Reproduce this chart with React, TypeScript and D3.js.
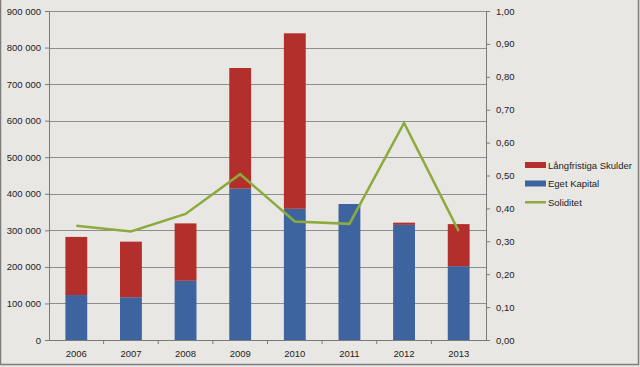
import React, { useRef, useEffect } from "react";
import * as d3 from "d3";

const years = ["2006", "2007", "2008", "2009", "2010", "2011", "2012", "2013"];
const egetKapital = [123000, 117000, 162000, 414000, 359000, 372000, 315000, 202000];
const langfristigaSkulder = [159000, 152000, 157000, 330000, 480000, 0, 6000, 115000];
const soliditet = [0.347, 0.33, 0.383, 0.504, 0.36, 0.353, 0.66, 0.331];
const leftTicks = [0, 100000, 200000, 300000, 400000, 500000, 600000, 700000, 800000, 900000];
const rightTicks = [0, 0.1, 0.2, 0.3, 0.4, 0.5, 0.6, 0.7, 0.8, 0.9, 1.0];

const legendItems = [
  { label: "Långfristiga Skulder", color: "#b22f2b", type: "bar" },
  { label: "Eget Kapital", color: "#3e64a0", type: "bar" },
  { label: "Soliditet", color: "#8cab3c", type: "line" },
];

const App = () => {
  const ref = useRef<SVGSVGElement>(null);

  useEffect(() => {
    const svg = d3.select(ref.current);
    svg.selectAll("*").remove();

    const width = 640;
    const height = 367;
    const margin = { top: 11, right: 154, bottom: 27, left: 49 };
    const font = "'Liberation Sans', Arial, sans-serif";

    svg.append("rect").attr("width", width).attr("height", height).attr("fill", "#e9e7e4");
    svg
      .append("rect")
      .attr("x", 0.5)
      .attr("y", -1)
      .attr("width", width - 2)
      .attr("height", height - 1.5)
      .attr("fill", "none")
      .attr("stroke", "#7d7d7d")
      .attr("stroke-width", 1.5);

    const x = d3
      .scaleBand()
      .domain(years)
      .range([margin.left, width - margin.right]);

    const y = d3
      .scaleLinear()
      .domain([0, 900000])
      .range([height - margin.bottom, margin.top]);

    const y2 = d3
      .scaleLinear()
      .domain([0, 1])
      .range([height - margin.bottom, margin.top]);

    // gridlines
    svg
      .append("g")
      .selectAll("line")
      .data(leftTicks.filter((d) => d > 0))
      .join("line")
      .attr("x1", margin.left)
      .attr("x2", width - margin.right)
      .attr("y1", (d) => Math.round(y(d)) + 0.5)
      .attr("y2", (d) => Math.round(y(d)) + 0.5)
      .attr("stroke", "#8e8e8e")
      .attr("stroke-width", 1);

    // bars
    const barW = x.bandwidth() * 0.4;
    const bars = svg.append("g");
    bars
      .selectAll("rect.eget")
      .data(years)
      .join("rect")
      .attr("class", "eget")
      .attr("x", (d) => x(d)! + (x.bandwidth() - barW) / 2)
      .attr("width", barW)
      .attr("y", (d, i) => y(egetKapital[i]))
      .attr("height", (d, i) => y(0) - y(egetKapital[i]))
      .attr("fill", "#3e64a0");
    bars
      .selectAll("rect.lang")
      .data(years)
      .join("rect")
      .attr("class", "lang")
      .attr("x", (d) => x(d)! + (x.bandwidth() - barW) / 2)
      .attr("width", barW)
      .attr("y", (d, i) => y(egetKapital[i] + langfristigaSkulder[i]))
      .attr("height", (d, i) => y(egetKapital[i]) - y(egetKapital[i] + langfristigaSkulder[i]))
      .attr("fill", "#b22f2b");

    // left axis
    const leftAxis = svg
      .append("g")
      .attr("transform", `translate(${margin.left},0)`)
      .call(
        d3
          .axisLeft(y)
          .tickValues(leftTicks)
          .tickSize(4)
          .tickPadding(4)
          .tickFormat((d) => d3.format(",")(d as number).replace(/,/g, " "))
      );
    leftAxis.selectAll("path, line").attr("stroke", "#7a7a7a");
    leftAxis.selectAll("text").attr("fill", "#222").style("font-family", font).style("font-size", "9.5px");

    // right axis
    const rightAxis = svg
      .append("g")
      .attr("transform", `translate(${width - margin.right},0)`)
      .call(
        d3
          .axisRight(y2)
          .tickValues(rightTicks)
          .tickSize(4)
          .tickPadding(6)
          .tickFormat((d) => d3.format(".2f")(d as number).replace(".", ","))
      );
    rightAxis.selectAll("path, line").attr("stroke", "#7a7a7a");
    rightAxis.selectAll("text").attr("fill", "#222").style("font-family", font).style("font-size", "9.5px");

    // bottom axis
    const bottomAxis = svg
      .append("g")
      .attr("transform", `translate(0,${height - margin.bottom})`)
      .call(d3.axisBottom(x).tickSize(0).tickPadding(10));
    bottomAxis.select(".domain").attr("stroke", "#7a7a7a");
    bottomAxis.selectAll("text").attr("fill", "#222").style("font-family", font).style("font-size", "9.5px");
    svg
      .append("g")
      .selectAll("line")
      .data(years.slice(1))
      .join("line")
      .attr("x1", (d) => x(d)!)
      .attr("x2", (d) => x(d)!)
      .attr("y1", height - margin.bottom)
      .attr("y2", height - margin.bottom + 4)
      .attr("stroke", "#7a7a7a");

    // soliditet line
    const line = d3
      .line<number>()
      .x((d, i) => x(years[i])! + x.bandwidth() / 2)
      .y((d) => y2(d));
    svg
      .append("path")
      .datum(soliditet)
      .attr("fill", "none")
      .attr("stroke", "#8cab3c")
      .attr("stroke-width", 2.5)
      .attr("stroke-linejoin", "miter")
      .attr("d", line);

    // legend
    const legend = svg.append("g").attr("transform", "translate(525,165)");
    const items = legend
      .selectAll("g")
      .data(legendItems)
      .join("g")
      .attr("transform", (d, i) => `translate(0,${i * 18.5})`);
    items
      .append("rect")
      .attr("x", 0)
      .attr("y", (d) => (d.type === "bar" ? -3 : -1))
      .attr("width", 21)
      .attr("height", (d) => (d.type === "bar" ? 6 : 2.5))
      .attr("fill", (d) => d.color);
    items
      .append("text")
      .attr("x", 23)
      .attr("y", 3.5)
      .attr("fill", "#222")
      .style("font-family", font)
      .style("font-size", "9.5px")
      .text((d) => d.label);
  }, []);

  return (
    <svg
      ref={ref}
      width={640}
      height={367}
      style={{ position: "absolute", top: 0, left: 0, display: "block" }}
    ></svg>
  );
};

export default App;
